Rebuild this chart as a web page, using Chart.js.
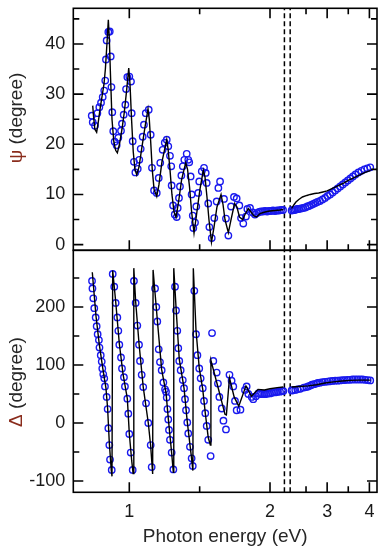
<!DOCTYPE html>
<html><head><meta charset="utf-8">
<script src="https://cdn.jsdelivr.net/npm/chart.js@4.4.1/dist/chart.umd.min.js"></script>
<style>html,body{margin:0;padding:0;background:#fff;}canvas{display:block}</style>
</head><body>
<canvas id="c" width="385" height="550"></canvas>
<script>
// ---------- data ----------
const psiDataE = [0.733,0.740,0.756,0.773,0.787,0.799,0.811,0.822,0.829,0.834,0.839,0.851,0.861,0.868,0.873,0.879,0.886,0.896,0.910,0.922,0.941,0.948,0.960,0.972,0.977,0.986,1.000,1.012,1.017,1.024,1.033,1.043,1.060,1.071,1.081,1.095,1.104,1.117,1.138,1.152,1.161,1.176,1.195,1.209,1.220,1.237,1.252,1.266,1.277,1.289,1.298,1.301,1.311,1.323,1.337,1.344,1.353,1.360,1.370,1.380,1.391,1.408,1.419,1.426,1.436,1.443,1.451,1.455,1.467,1.476,1.490,1.497,1.515,1.531,1.543,1.550,1.561,1.569,1.586,1.604,1.621,1.633,1.645,1.673,1.687,1.704,1.723,1.744,1.763,1.782,1.794,1.810,1.829,1.839,1.858,1.877,1.893,1.908,1.922,1.936,1.950,1.965,1.979,1.993,2.014,2.042,2.069,2.097,2.125,2.153,2.181,
  2.30,2.32,2.34,2.36,2.38,2.40,2.43,2.46,2.49,2.53,2.57,2.62,2.67,2.72,2.77,2.83,2.89,2.95,3.01,3.07,3.13,3.19,3.25,3.31,3.37,3.43,3.49,3.55,3.61,3.67,3.74,3.81,3.88,3.95,4.02];
const psiData = [25.7,24.4,23.7,26.2,27.4,28.3,29.4,30.7,32.7,36.9,40.7,42.4,42.5,37.5,31.4,26.4,22.6,20.5,19.8,21.3,22.7,24.1,25.9,27.9,31.0,33.4,33.5,32.5,26.2,20.6,16.5,14.4,15.1,16.9,19.1,21.5,23.9,26.2,26.9,21.9,15.3,10.8,10.3,13.3,16.3,18.9,20.3,20.9,19.6,17.7,15.6,11.8,7.8,6.0,5.5,7.3,9.3,11.6,13.8,15.6,16.9,18.1,16.9,16.4,13.6,10.0,5.8,3.3,4.4,7.6,10.3,12.6,14.6,15.3,14.3,12.3,8.2,3.5,1.3,5.3,8.6,11.3,12.6,9.1,5.2,1.8,7.6,9.5,9.2,7.8,5.3,4.2,5.6,7.1,7.3,6.4,6.0,6.3,6.5,6.6,6.6,6.7,6.6,6.7,6.7,6.8,6.7,6.8,6.8,6.9,6.9,
  6.8,6.9,6.9,7.0,7.1,7.1,7.2,7.3,7.4,7.6,7.7,7.9,8.1,8.3,8.5,8.7,9.0,9.3,9.7,10.0,10.4,10.8,11.2,11.6,12.0,12.4,12.8,13.2,13.6,14.0,14.4,14.7,15.0,15.2,15.4];

const psiModelE = [0.740,0.746,0.755,0.768,0.780,0.792,0.806,0.820,0.830,0.841,0.851,0.858,0.866,0.877,0.890,0.903,0.915,0.930,0.948,0.965,0.980,0.996,1.005,1.016,1.028,1.040,1.053,1.069,1.090,1.112,1.133,1.142,1.152,1.163,1.176,1.195,1.211,1.232,1.266,1.276,1.289,1.303,1.318,1.332,1.350,1.372,1.401,1.414,1.428,1.443,1.460,1.478,1.502,1.526,1.538,1.552,1.566,1.584,1.602,1.623,1.652,1.666,1.680,1.704,1.723,1.748,1.765,1.783,1.806,1.822,1.846,1.865,1.886,1.905,1.929,1.952,1.979,2.000,2.069,2.139,2.185,
  2.24,
  2.30,2.33,2.36,2.40,2.45,2.52,2.60,2.70,2.80,2.90,3.00,3.10,3.20,3.30,3.40,3.50,3.60,3.70,3.80,3.90,4.00,4.03];
const psiModel = [27.7,25.5,23.0,22.4,24.5,27.0,29.5,32.0,35.0,40.0,44.8,41.0,34.0,25.0,20.5,18.8,18.3,20.0,23.0,26.5,30.5,35.2,32.0,25.0,18.5,15.0,13.9,15.5,19.5,23.5,27.0,25.0,20.5,15.0,11.0,9.6,12.0,16.5,20.9,19.0,15.0,10.0,6.5,5.5,8.5,13.0,16.3,15.0,11.5,6.5,2.3,6.0,11.0,14.8,13.5,9.5,5.0,0.5,3.5,7.5,10.0,8.0,5.0,2.4,5.0,8.2,7.5,5.5,5.0,6.0,7.2,6.5,5.7,5.5,6.2,6.4,6.6,6.7,6.8,6.9,7.0,
  null,
  7.2,7.9,8.5,9.0,9.5,9.8,10.0,10.2,10.3,10.5,10.7,11.1,11.5,11.9,12.3,12.8,13.2,13.6,14.0,14.4,14.7,14.8];

const deltaDataE = [0.735,0.738,0.744,0.751,0.761,0.768,0.775,0.784,0.788,0.797,0.804,0.808,0.815,0.822,0.827,0.839,0.846,0.851,0.858,0.863,0.875,
  0.882,0.893,0.903,0.915,0.922,0.929,0.941,0.948,0.962,0.969,0.986,0.993,1.000,1.010,1.024,
  1.033,1.045,1.057,1.069,1.076,1.088,1.099,1.119,1.135,1.152,1.159,
  1.183,1.192,1.199,1.209,1.218,1.230,1.242,1.254,1.261,1.266,1.271,1.277,1.282,1.289,1.301,1.313,
  1.325,1.332,1.341,1.348,1.355,1.365,1.380,1.389,1.396,1.403,1.412,1.419,1.431,1.443,1.451,
  1.462,1.474,1.484,1.497,1.507,1.522,1.531,1.540,1.550,1.561,1.578,
  1.588,1.597,1.621,1.630,1.640,1.657,1.669,1.687,1.712,1.727,1.739,1.751,1.763,1.790,1.822,1.834,1.846,1.870,1.881,1.900,1.917,1.929,1.943,1.958,1.972,1.986,2.000,2.028,2.056,2.083,2.111,2.139,2.167,2.185,
  2.30,2.32,2.35,2.38,2.42,2.47,2.51,2.55,2.60,2.64,2.69,2.74,2.78,2.83,2.89,2.95,3.01,3.07,3.13,3.19,3.25,3.31,3.37,3.42,3.48,3.54,3.60,3.66,3.72,3.78,3.84,3.90,3.96,4.02];
const deltaData = [245,232,215,198,182,167,153,143,130,117,106,94,84,77,63,45,24,-9,-38,-63,-81,
  257,235,207,182,159,135,113,94,79,63,42,16,-19,-51,-81,
  245,207,168,135,107,83,62,34,0,-38,-76,
  232,200,175,127,105,91,70,58,54,44,24,6,-12,-29,-51,-80,
  235,194,159,129,107,91,74,60,41,22,1,-18,-41,-61,-74,
  228,153,117,94,77,60,38,17,-5,-29,-57,
  155,107,87,68,45,25,4,-11,83,73,63,38,22,23,57,63,50,45,41,46,51,50,50,50,50,51,51,52,53,53,54,54,55,55,
  56,56.5,57,58,59,61,62,63,64.5,66,67,68,69,69.5,70.5,71,71.5,72,72.5,73,73,73.5,74,74,74.5,74.5,75,75,75,75,75,74.5,74,73.5];

const deltaModelE = [0.737,0.763,0.787,0.811,0.834,0.846,0.858,0.872,0.877,
  0.882,0.903,0.929,0.955,0.986,1.000,1.017,1.027,
  1.032,1.045,1.069,1.099,1.135,1.152,1.166,
  1.169,1.199,1.230,1.261,1.277,1.301,1.313,
  1.316,1.332,1.355,1.389,1.412,1.443,1.452,
  1.455,1.474,1.497,1.522,1.540,1.561,1.576,
  1.580,1.630,1.680,1.690,1.712,1.745,1.778,1.829,1.868,1.915,1.960,2.000,2.100,2.185,
  2.24,
  2.30,2.40,2.55,2.75,2.95,3.15,3.35,3.55,3.75,3.95,4.03];
const deltaModel = [260,185,135,95,60,25,-35,-82,-92,
  263,210,137,85,42,-18,-65,-87,
  267,210,137,62,0,-40,-88,
  264,178,92,52,8,-52,-85,
  267,200,110,60,2,-62,-82,
  267,160,95,58,17,-25,-38,
  108,62,15,14,78,45,29,64,46,58,57,59,61,62,
  null,
  62,63,64,66,69,71,72.5,73.5,74,74,74];

const markerEnergies = [2.20, 2.28];          // vertical dashed lines (eV)
const xTickValues = [1, 1.5, 2, 2.5, 3, 3.5, 4];
const xTickLabels = ['1', '', '2', '', '3', '', '4'];
const psiTickValues = [0, 5, 10, 15, 20, 25, 30, 35, 40, 45];
const deltaTickValues = [-100, -50, 0, 50, 100, 150, 200, 250];
const xTitle = 'Photon energy (eV)';
const psiTitle = ['ψ', ' (degree)'];
const deltaTitle = ['Δ', ' (degree)'];

// ---------- axis ranges / layout ----------
const X_MIN = 0.602, X_MAX = 4.18;
const PSI_MIN = -1.13, PSI_MAX = 47.1;
const DEL_MIN = -119.5, DEL_MAX = 297.8;
// piecewise energy axis of the original figure
const knotE = [0.602, 1, 2, 2.5, 4.18];
const knotF = [0, 0.1844, 0.6477, 0.7663, 1];
function eToFrac(v){
  let i = 0; while (i < knotE.length - 2 && v > knotE[i+1]) i++;
  return knotF[i] + (v - knotE[i]) / (knotE[i+1] - knotE[i]) * (knotF[i+1] - knotF[i]);
}
function fracToE(d){
  let i = 0; while (i < knotF.length - 2 && d > knotF[i+1]) i++;
  return knotE[i] + (d - knotF[i]) / (knotF[i+1] - knotF[i]) * (knotE[i+1] - knotE[i]);
}
class BrokenLinearScale extends Chart.LinearScale {
  getPixelForValue(v){ return (v === null || v === undefined) ? NaN : this.getPixelForDecimal(eToFrac(v)); }
  getValueForPixel(p){ return fracToE(this.getDecimalForPixel(p)); }
}
BrokenLinearScale.id = 'brokenLinear';
BrokenLinearScale.defaults = Chart.LinearScale.defaults;
Chart.register(BrokenLinearScale);

const zip = (xs, ys) => xs.map((x, i) => ({x, y: ys[i]}));
const FONT = '"Liberation Sans", Arial, sans-serif';
const BLUE = '#1a1aee';

const datasets = [
  {data: zip(psiModelE, psiModel), yAxisID: 'yPsi', borderColor: '#000', borderWidth: 1.4, pointRadius: 0, spanGaps: false, tension: 0},
  {data: zip(deltaModelE, deltaModel), yAxisID: 'yDel', borderColor: '#000', borderWidth: 1.4, pointRadius: 0, spanGaps: false, tension: 0},
  {data: zip(psiDataE, psiData), yAxisID: 'yPsi', showLine: false, pointStyle: 'circle', pointRadius: 3.2, pointBorderWidth: 1.4, pointBorderColor: BLUE, pointBackgroundColor: 'rgba(0,0,0,0)'},
  {data: zip(deltaDataE, deltaData), yAxisID: 'yDel', showLine: false, pointStyle: 'circle', pointRadius: 3.2, pointBorderWidth: 1.4, pointBorderColor: BLUE, pointBackgroundColor: 'rgba(0,0,0,0)'}
];
markerEnergies.forEach(e => {
  datasets.push({data: [{x: e, y: PSI_MIN}, {x: e, y: PSI_MAX}], yAxisID: 'yPsi', borderColor: '#000', borderWidth: 1.5, borderDash: [5, 3], pointRadius: 0});
  datasets.push({data: [{x: e, y: DEL_MIN}, {x: e, y: DEL_MAX}], yAxisID: 'yDel', borderColor: '#000', borderWidth: 1.5, borderDash: [5, 3], pointRadius: 0});
});

const tickFont = {family: FONT, size: 18};
function yAxis(min, max, vals, step){
  return {
    type: 'linear', position: 'left', stack: 'panels', stackWeight: 1,
    min, max, bounds: 'data',
    grid: {display: false, drawTicks: false}, border: {display: false},
    ticks: {autoSkip: false, font: tickFont, color: '#1a1a1a', padding: 8,
      callback: v => (v % step === 0 ? String(v) : '')},
    afterBuildTicks: s => { s.ticks = vals.map(v => ({value: v})); },
    afterFit: s => { s.width = 73.3; s.paddingTop = 0; s.paddingBottom = 0; }
  };
}

const framePlugin = {
  id: 'frame',
  afterDraw(chart){
    const ctx = chart.ctx, ca = chart.chartArea;
    const xs = chart.scales.x, yp = chart.scales.yPsi, yd = chart.scales.yDel;
    ctx.save();
    ctx.strokeStyle = '#000'; ctx.lineWidth = 1.6;
    [yp, yd].forEach(ys => {
      ctx.strokeRect(ca.left, ys.top, ca.right - ca.left, ys.bottom - ys.top);
      ys.ticks.forEach(t => {
        const p = ys.getPixelForValue(t.value);
        const len = t.label !== '' ? 10 : 6;
        ctx.beginPath();
        ctx.moveTo(ca.left, p); ctx.lineTo(ca.left + len, p);
        ctx.moveTo(ca.right, p); ctx.lineTo(ca.right - len, p);
        ctx.stroke();
      });
    });
    xs.ticks.forEach((t, i) => {
      const p = xs.getPixelForValue(t.value);
      const len = xTickLabels[i] !== '' ? 10 : 6;
      ctx.beginPath();
      ctx.moveTo(p, yp.top); ctx.lineTo(p, yp.top + len);
      ctx.moveTo(p, yp.bottom); ctx.lineTo(p, yp.bottom - len);
      ctx.moveTo(p, yd.bottom); ctx.lineTo(p, yd.bottom - len);
      ctx.stroke();
    });
    // titles
    ctx.textBaseline = 'middle';
    ctx.font = '19px ' + FONT;
    const rot = (cx, cy, parts) => {
      ctx.save(); ctx.translate(cx, cy); ctx.rotate(-Math.PI / 2);
      const w = parts.reduce((s, p) => s + ctx.measureText(p).width, 0);
      let x = -w / 2; ctx.textAlign = 'left';
      parts.forEach((p, i) => { ctx.fillStyle = i === 0 ? '#8a2c1c' : '#262626'; ctx.fillText(p, x, 0); x += ctx.measureText(p).width; });
      ctx.restore();
    };
    rot(17, 118, psiTitle);
    rot(17, 382, deltaTitle);
    ctx.textAlign = 'center'; ctx.textBaseline = 'alphabetic'; ctx.fillStyle = '#262626';
    ctx.fillText(xTitle, (ca.left + ca.right) / 2, 542);
    ctx.restore();
  }
};

new Chart(document.getElementById('c'), {
  type: 'line',
  data: {datasets},
  options: {
    responsive: false, animation: false, devicePixelRatio: 1, events: [],
    layout: {padding: {top: 8.3, right: 8, left: 0, bottom: 0}},
    plugins: {legend: {display: false}, tooltip: {enabled: false}},
    scales: {
      x: {
        type: 'brokenLinear', position: 'bottom', min: X_MIN, max: X_MAX, bounds: 'data',
        grid: {display: false, drawTicks: false}, border: {display: false},
        ticks: {autoSkip: false, maxRotation: 0, font: tickFont, color: '#1a1a1a', padding: 9,
          callback: (v, i) => xTickLabels[i]},
        afterBuildTicks: s => { s.ticks = xTickValues.map(v => ({value: v})); },
        afterFit: s => { s.height = 57.7; s.paddingLeft = 0; s.paddingRight = 0; }
      },
      yDel: yAxis(DEL_MIN, DEL_MAX, deltaTickValues, 100),
      yPsi: yAxis(PSI_MIN, PSI_MAX, psiTickValues, 10)
    }
  },
  plugins: [framePlugin]
});
</script>
</body></html>
